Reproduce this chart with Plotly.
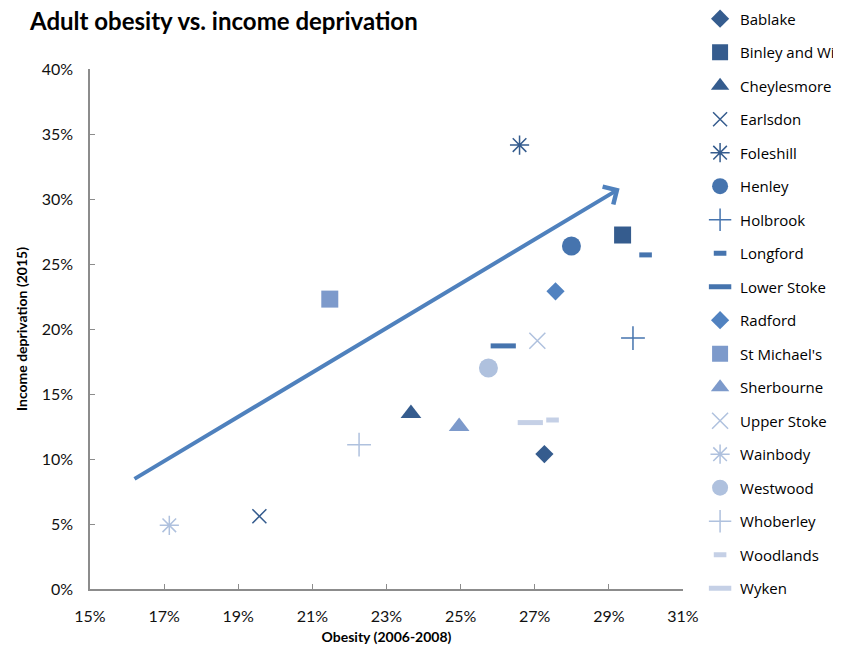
import plotly.graph_objects as go

names = ["Bablake", "Binley and Willenhall", "Cheylesmore", "Earlsdon", "Foleshill",
         "Henley", "Holbrook", "Longford", "Lower Stoke", "Radford",
         "St Michael's", "Sherbourne", "Upper Stoke", "Wainbody", "Westwood",
         "Whoberley", "Woodlands", "Wyken"]
obesity = [0.2726, 0.2937, 0.2366, 0.1957, 0.2659,
           0.2799, 0.2965, 0.2999, 0.2615, 0.2756,
           0.2147, 0.2496, 0.2707, 0.1714, 0.2575,
           0.2226, 0.2748, 0.2688]
deprivation = [0.1038, 0.2723, 0.1350, 0.0560, 0.3415,
               0.2638, 0.1930, 0.2570, 0.1870, 0.2290,
               0.2230, 0.1250, 0.1910, 0.0490, 0.1700,
               0.1110, 0.1300, 0.1280]
trend_start = (0.1616, 0.084)
trend_end = (0.2929, 0.308)

DARK = "#355C8E"
MID = "#4674AE"
LIGHT = "#7D9ACB"
PALE = "#AFC1DE"

styles = [
    ("diamond", 14, DARK, 0), ("square", 17, DARK, 0), ("triangle-up", 18, DARK, 0),
    ("x-thin-open", 14, DARK, 1.5), ("asterisk-open", 16, DARK, 1.5),
    ("circle", 19, MID, 0), ("cross-thin-open", 17, MID, 1.5), ("line-ew-open", 9, MID, 5),
    ("line-ew-open", 18, MID, 5), ("diamond", 14, "#5182C0", 0),
    ("square", 17, LIGHT, 0), ("triangle-up", 18, LIGHT, 0), ("x-thin-open", 16, PALE, 1.5),
    ("asterisk-open", 16, PALE, 1.5), ("circle", 19, PALE, 0), ("cross-thin-open", 17, PALE, 1.5),
    ("line-ew-open", 9, "#C5D0E6", 5), ("line-ew-open", 18, "#C5D0E6", 5),
]

fig = go.Figure()
for i, n in enumerate(names):
    sym, size, col, lw = styles[i]
    marker = dict(symbol=sym, size=size, color=col)
    if lw:
        marker["line"] = dict(color=col, width=lw)
    else:
        marker["line"] = dict(width=0)
    fig.add_trace(go.Scatter(x=[obesity[i]], y=[deprivation[i]], mode="markers",
                             name=n, marker=marker, legendgroup=n))

fig.add_annotation(x=trend_end[0], y=trend_end[1], ax=trend_start[0], ay=trend_start[1],
                   xref="x", yref="y", axref="x", ayref="y", text="",
                   showarrow=True, arrowhead=4, arrowsize=1, arrowwidth=4,
                   arrowcolor="#4F81BD")

axis_font = dict(family="Lato, Carlito, sans-serif", size=16, color="#111")
title_font = dict(family="Lato, sans-serif", size=14, color="#000")
fig.update_layout(
    width=841, height=650,
    paper_bgcolor="white", plot_bgcolor="white",
    margin=dict(l=82, r=166, t=61, b=69, autoexpand=False),
    title=dict(text="<b>Adult obesity vs. income deprivation</b>", x=22/841, xanchor="left",
               y=1 - 14/650, yanchor="middle",
               font=dict(family="Lato, sans-serif", size=24, color="#000")),
    xaxis=dict(range=[0.15, 0.31], tick0=0.15, dtick=0.02, tickformat=".0%", showgrid=False, zeroline=False,
               showline=True, linecolor="#8C8C8C", linewidth=1.5, ticks="inside", ticklen=5,
               tickcolor="#8C8C8C", tickfont=axis_font, automargin=False, ticklabelstandoff=12,
               title=dict(text="<b>Obesity (2006-2008)</b>", font=title_font, standoff=8)),
    yaxis=dict(range=[0, 0.40], tick0=0, dtick=0.05, tickformat=".0%", showgrid=False, zeroline=False,
               showline=True, linecolor="#8C8C8C", linewidth=1.5, ticks="inside", ticklen=5,
               tickcolor="#8C8C8C", tickfont=axis_font, automargin=False, ticklabelstandoff=12,
               title=dict(text="<b>Income deprivation (2015)</b>", font=title_font, standoff=11)),
    legend=dict(x=1.0288, xanchor="left", y=1.128, yanchor="top", tracegroupgap=11.0,
                maxheight=700,
                font=dict(family="Open Sans, sans-serif", size=15, color="#000"), bgcolor="rgba(0,0,0,0)"),
    showlegend=True,
)

fig.write_html("out.html")
